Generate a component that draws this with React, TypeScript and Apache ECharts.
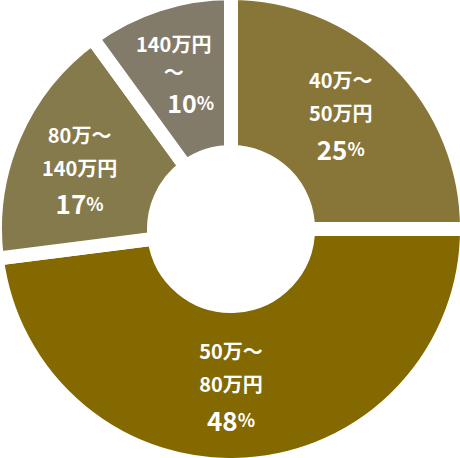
import React, { useEffect, useRef } from 'react';
import * as echarts from 'echarts';

// income bands, read clockwise from 12 o'clock
const bands = ['40万～\n50万円', '50万～\n80万円', '80万～\n140万円', '140万円\n～'];
const shares = [25, 48, 17, 10];
const colors = ['#887638', '#846800', '#857a4b', '#837b69'];
// small nudges of the inside labels
const labelDx = [-3, -10, -5, -8];
const labelDy = [-1, -2, 4, -3];

const font = 'Noto Sans CJK JP';

const App = () => {
  const chartRef = useRef<HTMLDivElement>(null);

  useEffect(() => {
    if (!chartRef.current) return;
    const chart = echarts.init(chartRef.current, null, { renderer: 'svg' });

    const data = bands.map((name, i) => ({
      name,
      value: shares[i],
      itemStyle: { color: colors[i] },
    }));

    chart.setOption({
      animation: false,
      series: [
        {
          type: 'pie',
          center: [231, 229],
          radius: [77, 236],
          startAngle: 90,
          clockwise: true,
          silent: true,
          itemStyle: { borderColor: '#ffffff', borderWidth: 14 },
          label: {
            show: true,
            position: 'inside',
            color: '#ffffff',
            fontFamily: font,
            formatter: (p: any) => {
              const lines = p.name.split('\n');
              if (p.dataIndex === 3) {
                return lines.map((s: string) => `{u|${s}}`).join('\n') + `\n{q|${p.value}}{s|%}`;
              }
              return lines.map((s: string) => `{t|${s}}`).join('\n') + `\n{p|${p.value}}{s|%}`;
            },
            rich: {
              t: { fontSize: 20, fontWeight: 'bold', lineHeight: 33, color: '#fff', fontFamily: font },
              u: { fontSize: 20, fontWeight: 'bold', lineHeight: 28, color: '#fff', fontFamily: font },
              p: { fontSize: 26, fontWeight: 'bold', lineHeight: 38, color: '#fff', fontFamily: font },
              q: { fontSize: 25, fontWeight: 'bold', lineHeight: 33, color: '#fff', fontFamily: font, padding: [0, 0, 0, 34] },
              s: { fontSize: 18, fontWeight: 'bold', color: '#fff', fontFamily: font },
            },
          },
          labelLayout: (params: any) => ({
            dx: labelDx[params.dataIndex],
            dy: labelDy[params.dataIndex],
          }),
          labelLine: { show: false },
          data,
        },
      ],
    });

    return () => {
      chart.dispose();
    };
  }, []);

  return (
    <div
      ref={chartRef}
      style={{ position: 'fixed', left: 0, top: 0, width: 460, height: 458, background: '#fff' }}
    />
  );
};

export default App;
